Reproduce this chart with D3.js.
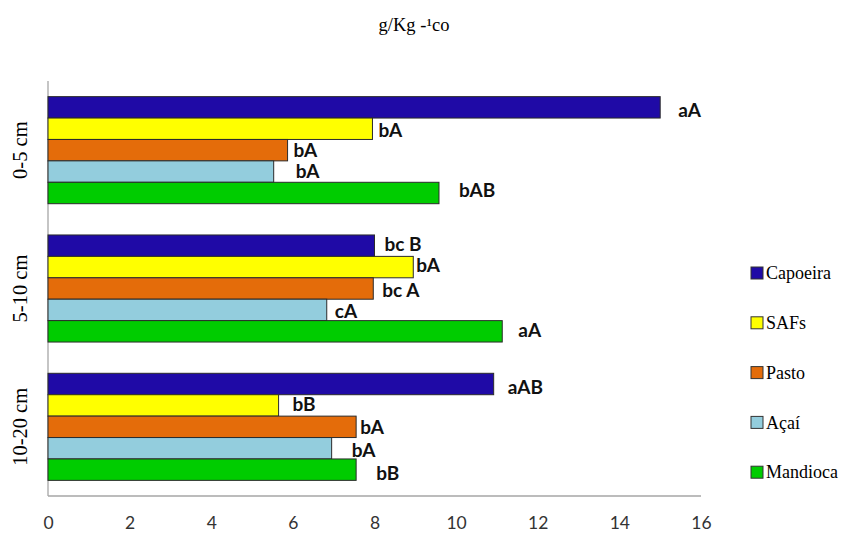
<!DOCTYPE html>
<html>
<head>
<meta charset="utf-8">
<script src="https://cdn.jsdelivr.net/npm/d3@7"></script>
<style>
  html, body { margin: 0; padding: 0; background: #fff; }
  svg { display: block; }
</style>
</head>
<body>
<svg id="chart" width="848" height="533"></svg>
<script>
// Soil depth layers (top to bottom)
const depths = ["0-5 cm", "5-10 cm", "10-20 cm"];
// Land uses, drawn top to bottom inside each layer
const series = ["Capoeira", "SAFs", "Pasto", "Açaí", "Mandioca"];
// Values per land use, one per depth layer
const capoeira = [15.0, 8.0, 10.92];
const safs     = [7.95, 8.95, 5.65];
const pasto    = [5.87, 7.97, 7.55];
const acai     = [5.53, 6.83, 6.95];
const mandioca = [9.58, 11.13, 7.55];
// Significance letters per land use, one per depth layer
const lettersCapoeira = ["aA", "bc B", "aAB"];
const lettersSafs     = ["bA", "bA", "bB"];
const lettersPasto    = ["bA", "bc A", "bA"];
const lettersAcai     = ["bA", "cA", "bA"];
const lettersMandioca = ["bAB", "aA", "bB"];
// X axis ticks
const xTicks = [0, 2, 4, 6, 8, 10, 12, 14, 16];

const values  = [capoeira, safs, pasto, acai, mandioca];
const letters = [lettersCapoeira, lettersSafs, lettersPasto, lettersAcai, lettersMandioca];

// Styling
const colors = ["#1F0AA6", "#FFFF00", "#E46C0A", "#93CDDD", "#00CC00"];
// Gap between bar end and its letter label (px), by land use then layer
const labelGap = [
  [18, 10, 14],
  [6, 3, 14],
  [6, 9, 4],
  [22, 8, 20],
  [20, 16, 20]
];
// Vertical nudge of letter labels (px), by land use then layer
const labelLift = [
  [3, -2, 3.5],
  [1, -2, -1],
  [0, 2, 0.5],
  [0, 1, 1.5],
  [-3, -1.5, 3]
];

const rows = [];
series.forEach((s, i) => {
  depths.forEach((d, j) => {
    rows.push({ series: s, depth: d, value: values[i][j], letter: letters[i][j],
                color: colors[i], gap: labelGap[i][j], lift: labelLift[i][j] });
  });
});

const svg = d3.select("#chart");
const plotL = 48, plotR = 701, plotT = 81, plotB = 496;

const x = d3.scaleLinear().domain([0, 16]).range([plotL, plotR]);
const y0 = d3.scaleBand().domain(depths).range([plotT, plotB])
  .paddingInner(0.226).paddingOuter(0.113);
const y1 = d3.scaleBand().domain(series).range([0, y0.bandwidth()]);

// Axis lines
svg.append("line").attr("x1", plotL).attr("x2", plotL).attr("y1", plotT).attr("y2", plotB)
  .attr("stroke", "#A6A6A6").attr("stroke-width", 1.3);
svg.append("line").attr("x1", plotL).attr("x2", plotR).attr("y1", plotB).attr("y2", plotB)
  .attr("stroke", "#A6A6A6").attr("stroke-width", 1.3);

// X tick labels
const xAxis = d3.axisBottom(x).tickValues(xTicks).tickSize(0).tickPadding(0).tickFormat(d3.format("d"));
const gx = svg.append("g").attr("transform", `translate(0, ${plotB + 22})`).call(xAxis);
gx.select(".domain").remove();
gx.selectAll("text")
  .attr("font-family", "Lato, 'Open Sans', sans-serif")
  .attr("font-size", 17.5)
  .attr("fill", "#333")
  .attr("dy", "0.32em")
  .attr("y", 5);

// Y category labels (rotated)
const yAxis = d3.axisLeft(y0).tickSize(0).tickPadding(0);
const gy = svg.append("g").attr("transform", `translate(20, 0)`).call(yAxis);
gy.select(".domain").remove();
gy.selectAll("text")
  .attr("font-family", "'Liberation Serif', 'Times New Roman', serif")
  .attr("font-size", 20.5)
  .attr("fill", "#000")
  .attr("text-anchor", "middle")
  .attr("x", 0)
  .attr("dy", "0.35em")
  .attr("transform", "rotate(-90)");
gy.selectAll(".tick").each(function(d) {
  d3.select(this).attr("transform", `translate(0, ${y0(d) + y0.bandwidth() / 2})`);
});

// Bars
svg.append("g").selectAll("rect").data(rows).join("rect")
  .attr("x", x(0))
  .attr("y", d => y0(d.depth) + y1(d.series))
  .attr("width", d => x(d.value) - x(0))
  .attr("height", y1.bandwidth())
  .attr("fill", d => d.color)
  .attr("stroke", "#2b2b2b")
  .attr("stroke-width", 1);

// Letter labels
svg.append("g").selectAll("text").data(rows).join("text")
  .attr("x", d => x(d.value) + d.gap)
  .attr("y", d => y0(d.depth) + y1(d.series) + y1.bandwidth() / 2 + d.lift)
  .attr("dy", "0.36em")
  .attr("font-family", "Lato, 'Open Sans', sans-serif")
  .attr("font-weight", "bold")
  .attr("font-size", 19)
  .attr("fill", "#111")
  .style("white-space", "pre")
  .text(d => d.letter);

// Title
svg.append("text")
  .attr("x", 414).attr("y", 31)
  .attr("text-anchor", "middle")
  .attr("font-family", "'Liberation Serif', 'Times New Roman', serif")
  .attr("font-size", 18.5)
  .attr("fill", "#000")
  .text("g/Kg -¹co");

// Legend
const legend = svg.append("g").attr("transform", "translate(751, 273)");
const lg = legend.selectAll("g").data(series).join("g")
  .attr("transform", (d, i) => `translate(0, ${i * 49.8})`);
lg.append("rect").attr("x", 0).attr("y", -6).attr("width", 12).attr("height", 12)
  .attr("fill", (d, i) => colors[i]).attr("stroke", "#333").attr("stroke-width", 1);
lg.append("text").attr("x", 15).attr("y", 0).attr("dy", "0.34em")
  .attr("font-family", "'Liberation Serif', 'Times New Roman', serif")
  .attr("font-size", 18)
  .attr("fill", "#000")
  .text(d => d);
</script>
</body>
</html>
